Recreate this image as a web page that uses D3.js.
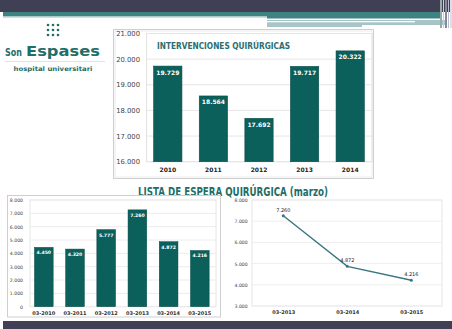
<!DOCTYPE html>
<html><head><meta charset="utf-8">
<script src="https://cdn.jsdelivr.net/npm/d3@7"></script>
<style>body{margin:0;background:#fff}svg{display:block}text{font-family:"DejaVu Sans",Verdana,sans-serif}</style>
</head><body><svg id="c" width="452" height="329"></svg>
<script>
const topYears = ["2010","2011","2012","2013","2014"];
const topValues = [19729,18564,17692,19717,20322];
const topTicks = [16000,17000,18000,19000,20000,21000];
const waitCats = ["03-2010","03-2011","03-2012","03-2013","03-2014","03-2015"];
const waitValues = [4450,4320,5777,7260,4872,4216];
const waitTicks = [0,1000,2000,3000,4000,5000,6000,7000,8000];
const lineCats = ["03-2013","03-2014","03-2015"];
const lineValues = [7260,4872,4216];
const lineTicks = [3000,4000,5000,6000,7000,8000];

const fmt = v => d3.format(",")(v).replace(/,/g,".");
const svg = d3.select("#c");
const BAR = "#0c605b", DARK = "#3f4053", TEAL = "#2a6e72";

// header decoration
svg.append("rect").attr("x",0).attr("y",0).attr("width",452).attr("height",12).attr("fill",DARK);
svg.append("rect").attr("x",3).attr("y",12).attr("width",437).attr("height",4.5).attr("fill","#3e8282");
svg.append("rect").attr("x",3).attr("y",16.5).attr("width",264).attr("height",1.2).attr("fill","#b9d2d2");
svg.append("rect").attr("x",267).attr("y",16).attr("width",173).attr("height",2.5).attr("fill","#3e8282");
svg.append("rect").attr("x",267).attr("y",20).attr("width",178).attr("height",5).attr("fill","#a7c5c6");
svg.append("rect").attr("x",267).attr("y",25).attr("width",95).attr("height",2).attr("fill","#a7c5c6");
svg.append("rect").attr("x",267).attr("y",21).attr("width",148).attr("height",1.3).attr("fill","#fff");
[[440,2,"#9aa"],[443,1,"#ccd"],[445,2,"#889"],[448,1,"#bbc"],[450,2,"#dde"]].forEach(d=>{
  svg.append("rect").attr("x",d[0]).attr("y",0).attr("width",d[1]).attr("height",28).attr("fill",d[2]);
});
// footer
svg.append("rect").attr("x",3).attr("y",321).attr("width",449).attr("height",8).attr("fill",DARK);

// logo
const dotX=[48,53,58], dotY=[25,30,35];
dotY.forEach(y=>dotX.forEach(x=>svg.append("circle").attr("cx",x).attr("cy",y).attr("r",1.3).attr("fill","#1f6e68")));
svg.append("text").attr("x",5).attr("y",56).attr("font-size",10).attr("font-weight","bold").attr("fill","#1f6e68")
  .attr("textLength",17).attr("lengthAdjust","spacingAndGlyphs").text("Son");
svg.append("text").attr("x",26).attr("y",56).attr("font-size",14.5).attr("font-weight","bold").attr("fill","#1f6e68")
  .attr("textLength",74).attr("lengthAdjust","spacingAndGlyphs").text("Espases");
svg.append("line").attr("x1",5).attr("x2",105).attr("y1",61.5).attr("y2",61.5).attr("stroke","#d8dcdc").attr("stroke-width",0.8);
svg.append("text").attr("x",53).attr("y",70.5).attr("text-anchor","middle").attr("font-size",6.3).attr("font-weight","bold").attr("fill","#1f6e68")
  .attr("textLength",79).attr("lengthAdjust","spacingAndGlyphs").text("hospital universitari");

// ---------- top chart ----------
svg.append("rect").attr("x",113.5).attr("y",29.5).attr("width",260).attr("height",149).attr("fill","#fff").attr("stroke","#cfcfcf");
svg.append("rect").attr("x",115).attr("y",31).attr("width",257).attr("height",146).attr("fill","none").attr("stroke","#ececec");
const tx = d3.scaleBand().domain(topYears).range([145,373]).paddingInner(0.38).paddingOuter(0.19);
const ty = d3.scaleLinear().domain([16000,21000]).range([161.7,33.5]);
const tp = svg.append("g");
tp.append("rect").attr("x",146.5).attr("y",33.5).attr("width",225.5).attr("height",128.2).attr("fill","none").attr("stroke","#e2e2e2");
tp.selectAll("line.g").data(topTicks).join("line").attr("x1",146.5).attr("x2",372).attr("y1",d=>ty(d)).attr("y2",d=>ty(d)).attr("stroke","#e6e6e6");
const tya = d3.axisLeft(ty).tickValues(topTicks).tickFormat(fmt).tickSize(0).tickPadding(0);
svg.append("g").attr("transform","translate(140,0)").call(tya).call(g=>{g.select(".domain").remove();g.selectAll("text").attr("font-size",6.8).attr("fill","#444").attr("font-family","DejaVu Sans");});
const txa = d3.axisBottom(tx).tickSize(0).tickPadding(0);
svg.append("g").attr("transform","translate(0,168)").call(txa).call(g=>{g.select(".domain").remove();g.selectAll("text").attr("font-size",6).attr("font-weight","bold").attr("fill","#222").attr("font-family","DejaVu Sans");});
tp.selectAll("rect.b").data(topValues).join("rect").attr("x",(d,i)=>tx(topYears[i])).attr("width",tx.bandwidth())
  .attr("y",d=>ty(d)).attr("height",d=>ty(16000)-ty(d)).attr("fill",BAR).attr("stroke","#0a4d49").attr("stroke-width",0.6);
tp.selectAll("text.v").data(topValues).join("text").attr("x",(d,i)=>tx(topYears[i])+tx.bandwidth()/2).attr("y",d=>ty(d)+8.5)
  .attr("text-anchor","middle").attr("font-size",6).attr("font-weight","bold").attr("fill","#fff").text(fmt);
svg.append("text").attr("x",157).attr("y",49).attr("font-size",8.6).attr("font-weight","bold").attr("fill",TEAL)
  .attr("textLength",133).attr("lengthAdjust","spacingAndGlyphs").text("INTERVENCIONES QUIRÚRGICAS");

// section title
svg.append("text").attr("x",138).attr("y",196).attr("font-size",11.5).attr("font-weight","bold").attr("fill","#1f6e68")
  .attr("textLength",190).attr("lengthAdjust","spacingAndGlyphs").text("LISTA DE ESPERA QUIRÚRGICA (marzo)");

// ---------- bottom-left chart ----------
svg.append("rect").attr("x",7.5).attr("y",195.5).attr("width",213).attr("height",121.5).attr("fill","#fff").attr("stroke","#cfcfcf");
const bx = d3.scaleBand().domain(waitCats).range([28.2,215.4]).paddingInner(0.4).paddingOuter(0.2);
const by = d3.scaleLinear().domain([0,8000]).range([306.7,200]);
const bl = svg.append("g");
bl.append("rect").attr("x",30).attr("y",200).attr("width",186).attr("height",106.7).attr("fill","none").attr("stroke","#e6e6e6");
bl.selectAll("line.g").data(waitTicks).join("line").attr("x1",30).attr("x2",216).attr("y1",d=>by(d)).attr("y2",d=>by(d)).attr("stroke","#ececec");
svg.append("g").attr("transform","translate(23,0)").call(d3.axisLeft(by).tickValues(waitTicks).tickFormat(fmt).tickSize(0).tickPadding(0))
  .call(g=>{g.select(".domain").remove();g.selectAll("text").attr("font-size",4.6).attr("fill","#444").attr("font-family","DejaVu Sans");});
svg.append("g").attr("transform","translate(0,311)").call(d3.axisBottom(bx).tickSize(0).tickPadding(0))
  .call(g=>{g.select(".domain").remove();g.selectAll("text").attr("font-size",5).attr("font-weight","bold").attr("fill","#333").attr("font-family","DejaVu Sans");});
bl.selectAll("rect.b").data(waitValues).join("rect").attr("x",(d,i)=>bx(waitCats[i])).attr("width",bx.bandwidth())
  .attr("y",d=>by(d)).attr("height",d=>by(0)-by(d)).attr("fill",BAR).attr("stroke","#0a4d49").attr("stroke-width",0.5);
bl.selectAll("text.v").data(waitValues).join("text").attr("x",(d,i)=>bx(waitCats[i])+bx.bandwidth()/2).attr("y",d=>by(d)+7)
  .attr("text-anchor","middle").attr("font-size",4.6).attr("font-weight","bold").attr("fill","#fff").text(fmt);

// ---------- bottom-right line chart ----------
const lx = d3.scalePoint().domain(lineCats).range([251.3,443.3]).padding(0.5);
const ly = d3.scaleLinear().domain([3000,8000]).range([306,200]);
const lr = svg.append("g");
lr.append("rect").attr("x",252).attr("y",200).attr("width",190).attr("height",106).attr("fill","none").attr("stroke","#e6e6e6");
lr.selectAll("line.g").data(lineTicks).join("line").attr("x1",252).attr("x2",442).attr("y1",d=>ly(d)).attr("y2",d=>ly(d)).attr("stroke","#eeeeee");
svg.append("g").attr("transform","translate(247.7,0)").call(d3.axisLeft(ly).tickValues(lineTicks).tickFormat(fmt).tickSize(0).tickPadding(0))
  .call(g=>{g.select(".domain").remove();g.selectAll("text").attr("font-size",4.6).attr("fill","#444").attr("font-family","DejaVu Sans");});
svg.append("g").attr("transform","translate(0,310)").call(d3.axisBottom(lx).tickSize(0).tickPadding(0))
  .call(g=>{g.select(".domain").remove();g.selectAll("text").attr("font-size",5).attr("font-weight","bold").attr("fill","#333").attr("font-family","DejaVu Sans");});
const line = d3.line().x((d,i)=>lx(lineCats[i])).y(d=>ly(d));
lr.append("path").datum(lineValues).attr("d",line).attr("fill","none").attr("stroke","#3a7584").attr("stroke-width",1.4);
lr.selectAll("circle").data(lineValues).join("circle").attr("cx",(d,i)=>lx(lineCats[i])).attr("cy",d=>ly(d)).attr("r",1.5).attr("fill","#3a7584");
lr.selectAll("text.v").data(lineValues).join("text").attr("x",(d,i)=>lx(lineCats[i])).attr("y",d=>ly(d)-4)
  .attr("text-anchor","middle").attr("font-size",5).attr("fill","#222").text(fmt);
</script></body></html>
